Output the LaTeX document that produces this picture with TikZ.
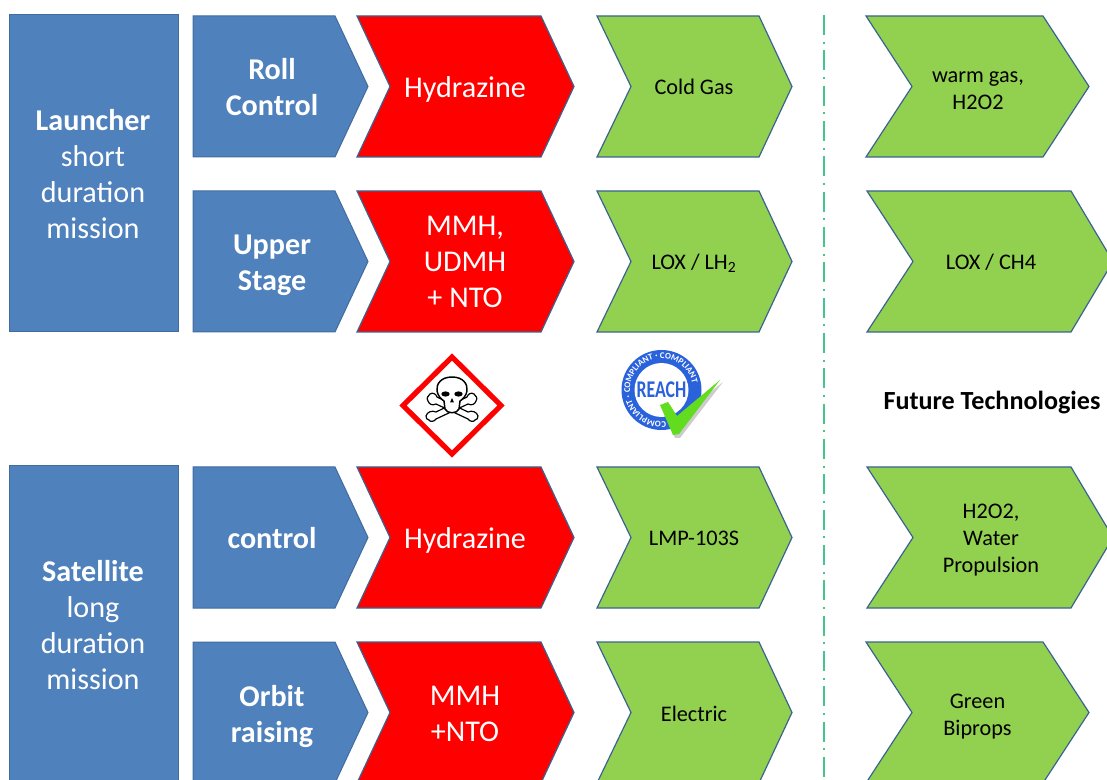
\documentclass[tikz,border=0pt]{standalone}
\usepackage{fontspec}
\setmainfont{Carlito}
\usetikzlibrary{decorations.text}
\definecolor{cblue}{HTML}{4F81BD}
\definecolor{cedge}{HTML}{3B6391}
\definecolor{cgreen}{HTML}{92D050}
\definecolor{cred}{HTML}{FF0000}
\definecolor{cline}{HTML}{45C48F}
\definecolor{creach}{HTML}{2A62DC}
\definecolor{ccheck}{HTML}{62DC1E}
\tikzset{
  x=0.75pt,y=-0.75pt,
  blueshape/.style={fill=cblue,draw=cedge!70!cblue,line width=0.75pt},
  redshape/.style={fill=cred,draw=cedge,line width=0.9pt},
  greenshape/.style={fill=cgreen,draw=cedge,line width=0.9pt},
  big/.style={font=\fontsize{22.6}{27}\selectfont,align=center,text=white,inner sep=0pt},
  bigb/.style={big,font=\fontsize{22.6}{27}\selectfont\bfseries},
  small/.style={font=\fontsize{16.7}{20.25}\selectfont,align=center,text=black,inner sep=0pt},
  bone/.style={line cap=round,line width=0.9pt,draw=black,fill=white},
}
% #1 style, #2 left, #3 notch, #4 shoulder, #5 tip, #6 top, #7 bottom
\newcommand{\chev}[7]{\draw[#1] (#2,#6) -- (#4,#6) -- (#5,{(#6+#7)/2}) -- (#4,#7) -- (#2,#7) -- (#3,{(#6+#7)/2}) -- cycle;}
\begin{document}
\begin{tikzpicture}
\useasboundingbox (0,0) rectangle (1107,780);
\clip (0,0) rectangle (1107,780);
% left boxes
\draw[blueshape] (9,15) rectangle (178,332);
\draw[blueshape] (9,466) rectangle (178,800);
% blue pentagons
\foreach \t/\b in {16/157,191/332,467/608,642/783}{
  \draw[blueshape] (193,\t) -- (335,\t) -- (368,{(\t+\b)/2}) -- (335,\b) -- (193,\b) -- cycle;
  \chev{redshape}{357}{390}{541}{574}{\t}{\b}
  \chev{greenshape}{597}{631}{759}{792}{\t}{\b}
}
\chev{greenshape}{866}{912}{1043}{1089}{16}{157}
\chev{greenshape}{867}{913}{1071}{1113}{191}{332}
\chev{greenshape}{867}{913}{1071}{1113}{467}{608}
\chev{greenshape}{866}{912}{1043}{1089}{642}{783}
% divider
\draw[cline,line width=1.1pt,dash pattern=on 15pt off 5pt on 1.5pt off 5pt] (824,15) -- (824,780);
% labels
\node[big] (launcher) at (93,174) {\textbf{Launcher}\\short\\duration\\mission};
\node[big] (satellite) at (93,625.5) {\textbf{Satellite}\\long\\duration\\mission};
\node[bigb] (roll) at (272,87) {Roll\\Control};
\node[bigb] (upper) at (272,265) {Upper\\Stage};
\node[bigb] (control) at (272,538) {control};
\node[bigb] (orbit) at (272,716) {Orbit\\raising};
\node[big] (hyd1) at (465,89) {Hydrazine};
\node[big] (mmh1) at (465,262) {MMH,\\UDMH\\+ NTO};
\node[big] (hyd2) at (465,540) {Hydrazine};
\node[big] (mmh2) at (465,714) {MMH\\+NTO};
\node[small] (cold) at (694,87) {Cold Gas};
\node[small] (lox) at (694,263) {LOX / LH\textsubscript{2}};
\node[small] (lmp) at (694,538) {LMP-103S};
\node[small] (elec) at (694,714) {Electric};
\node[small] (warm) at (978,91) {warm gas,\\H2O2};
\node[small] (loxch) at (991,262) {LOX / CH4};
\node[small] (water) at (991,540) {H2O2,\\Water\\Propulsion};
\node[small] (biprops) at (977.5,717) {Green\\Biprops};
\node[small,font=\fontsize{19.6}{20}\selectfont\bfseries] (future) at (992,403) {Future Technologies};
% hazard sign
\draw[cred,line width=3.9pt,fill=white,line join=miter] (452,357) -- (501,405.5) -- (452,454) -- (403,405.5) -- cycle;
\draw[bone] (430,394) .. controls (433,392) and (436,394) .. (437,397) -- (468,412) .. controls (472,410) and (477,412) .. (478,416) .. controls (479,419) and (476,419) .. (475,420) .. controls (474,422) and (470,422) .. (468,419) -- (436,404) .. controls (432,406) and (429,404) .. (428,401) .. controls (426,398) and (428,396) .. (430,394) -- cycle;
\draw[bone] (474,394) .. controls (471,392) and (468,394) .. (467,397) -- (436,412) .. controls (432,410) and (427,412) .. (426,416) .. controls (425,419) and (428,419) .. (429,420) .. controls (430,422) and (434,422) .. (436,419) -- (468,404) .. controls (472,406) and (475,404) .. (476,401) .. controls (478,398) and (476,396) .. (474,394) -- cycle;
\draw[bone,line width=1.1pt] (452,377) .. controls (441,377) and (436,384) .. (437,391) .. controls (438,396) and (441,399) .. (444,401) -- (445,409) .. controls (447,414) and (457,414) .. (459,409) -- (460,401) .. controls (463,399) and (466,396) .. (467,391) .. controls (468,384) and (463,377) .. (452,377) -- cycle;
\fill (445.5,394) ellipse [x radius=4.2,y radius=2.6];
\fill (458.5,394) ellipse [x radius=4.2,y radius=2.6];
\fill (452,398) -- (450,402.5) -- (454,402.5) -- cycle;
% REACH badge
\fill[creach] (661.5,390) circle (40);
\fill[white] (661.5,390) circle (27);
\path[decorate,decoration={text along path,text align=center,
  text={|\fontsize{6.6}{7}\selectfont\bfseries\color{white}|COMPLIANT · COMPLIANT · COMPLIANT}}]
  (674.8,418.5) arc[start angle=65,end angle=365,radius=31.5];
\node[inner sep=0pt,text=creach,font=\fontsize{18}{18}\selectfont\bfseries,xscale=0.74] (reach) at (661.5,389.5) {REACH};
\fill[gray!40] (662,407) -- (675,438) -- (680,438) -- (723,382) -- (677,419) -- (670,405) -- cycle;
\fill[ccheck] (660,405) -- (668,402) -- (677,416) -- (720,380) -- (679,434) -- (673,435) -- cycle;
\end{tikzpicture}
\end{document}
